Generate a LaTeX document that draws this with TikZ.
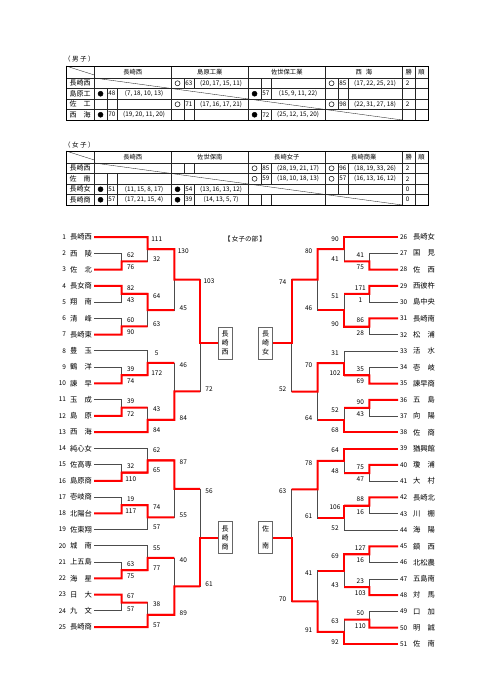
\documentclass[tikz,border=0pt]{standalone}
\usepackage{fontspec}
\setmainfont{Noto Sans CJK JP}
\usetikzlibrary{calc,backgrounds}

% one bout: column, next column, top, bottom, out, winner, top score, bottom score
\newcommand\bout[8]{%
  \coordinate (#5) at ($(#3 -| #1)!.5!(#4 -| #1)$);
  \begin{scope}[on background layer]
    \draw[lose] (#3) -- (#3 -| #1) -- (#4 -| #1) -- (#4);
  \end{scope}
  \draw[win] (#6) -- (#6 -| #1) -- (#5) -- (#5 -| #2);
  \node[score, yshift=-2pt] (#5t) at (#3 -| #1) {#7};
  \node[score, yshift=2pt] (#5b) at (#4 -| #1) {#8};
}
% last bout into the box: column, top, bottom, winner, box, anchor, top score, bottom score
\newcommand\final[8]{%
  \begin{scope}[on background layer]
    \draw[lose] (#2) -- (#2 -| #1) -- (#3 -| #1) -- (#3);
  \end{scope}
  \draw[win] (#4 -| #1) -- (#1 |- #5.#6) -- (#5.#6);
  \node[score, yshift=-2pt] (#5t) at (#2 -| #1) {#7};
  \node[score, yshift=2pt] (#5b) at (#3 -| #1) {#8};
}
% league table grid, top edge at #1
\newcommand\grid[1]{%
  \draw[rule] (66,#1) -- (94.3,{#1+9});
  \foreach \x in {94.3,171.3,248.3,325.3,402.3,415}
    \draw[rule] (\x,#1) -- (\x,{#1+54});
  \foreach \d in {12,22.5,33,43.5}
    \draw[rule] (66,{#1+\d}) -- (428,{#1+\d});
  \foreach \r in {0,...,3}{
    \foreach \k in {0,...,3}{
      \ifnum\r=\k
        \draw[rule] ({94.3+77*\k},{#1+12+10.5*\r}) -- ++(77,10.5);
      \else
        \draw[rule] ({106.8+77*\k},{#1+12+10.5*\r}) -- ++(0,10.5);
        \draw[rule] ({116.8+77*\k},{#1+12+10.5*\r}) -- ++(0,10.5);
      \fi
    }
  }
  \draw[frame] (66,#1) rectangle (428,{#1+54});
}

\begin{document}
\begin{tikzpicture}[
  x=1pt, y=-1pt,
  lose/.style={draw=black!70, line width=0.6pt},
  win/.style={draw=red, line width=2pt},
  seed/.style={font={\fontsize{6.5pt}{7pt}\selectfont}, inner sep=0pt, outer xsep=2pt},
  team/.style={font={\fontsize{7.3pt}{8pt}\selectfont}, inner sep=0pt, outer xsep=2pt},
  scoreL/.style={font={\fontsize{6.5pt}{7pt}\selectfont}, inner sep=0pt, xshift=9pt},
  scoreR/.style={font={\fontsize{6.5pt}{7pt}\selectfont}, inner sep=0pt, xshift=-9pt},
  score/.style={scoreL},
  champ/.style={draw=black!60, line width=0.4pt, fill=white, align=center, inner sep=1.5pt,
    minimum width=14pt, minimum height=32pt, font={\fontsize{7pt}{9pt}\selectfont}},
  frame/.style={draw=black, line width=0.8pt},
  rule/.style={draw=black!85, line width=0.35pt},
  thead/.style={font={\fontsize{6.3pt}{7pt}\selectfont}, inner sep=0pt},
  tlab/.style={font={\fontsize{7pt}{8pt}\selectfont}, inner sep=0pt},
  tcell/.style={font={\fontsize{6.3pt}{7pt}\selectfont}, inner sep=0pt},
  won/.style={circle, draw=black, line width=0.5pt, minimum size=5pt, inner sep=0pt},
  lost/.style={won, fill=black},
  caption/.style={font={\fontsize{6.5pt}{7pt}\selectfont}, inner sep=0pt}
]
\useasboundingbox (0,0) rectangle (481,680);

% ---- boys league
\node[caption, anchor=west] (mcap) at (64,59) {（ 男 子 ）};
\grid{66}
\foreach \k/\n in {0/長崎西,1/島原工業,2/佐世保工業,3/西\hspace{4pt}海}
  \node[thead] (mh\k) at ({132.8+77*\k},72) {\n};
\node[thead] (mwin) at (408.65,72) {勝};
\node[thead] (mrank) at (421.5,72) {順};
\foreach \r/\n in {0/長崎西,1/島原工,2/佐\hfill 工,3/西\hfill 海}
  \node[tlab] (mr\r) at (80.15,{83.25+10.5*\r}) {\makebox[21pt][s]{\n}};
\foreach \r/\k/\m/\p/\s in {0/1/won/63/{(20, 17, 15, 11)},0/3/won/85/{(17, 22, 25, 21)},
    1/0/lost/48/{(7, 18, 10, 13)},1/2/lost/57/{(15, 9, 11, 22)},
    2/1/won/71/{(17, 16, 17, 21)},2/3/won/98/{(22, 31, 27, 18)},
    3/0/lost/70/{(19, 20, 11, 20)},3/2/lost/72/{(25, 12, 15, 20)}}{
  \node[\m] (mc\r\k) at ({100.55+77*\k},{83.25+10.5*\r}) {};
  \node[tcell] (mp\r\k) at ({111.8+77*\k},{83.25+10.5*\r}) {\p};
  \node[tcell] (ms\r\k) at ({144.05+77*\k},{83.25+10.5*\r}) {\s};
}
\foreach \r/\w in {0/2,2/2}
  \node[tcell] (mw\r) at (407.5,{83.25+10.5*\r}) {\w};

% ---- girls league
\node[caption, anchor=west] (fcap) at (64,145) {（ 女 子 ）};
\grid{151}
\foreach \k/\n in {0/長崎西,1/佐世保南,2/長崎女子,3/長崎商業}
  \node[thead] (fh\k) at ({132.8+77*\k},157) {\n};
\node[thead] (fwin) at (408.65,157) {勝};
\node[thead] (frank) at (421.5,157) {順};
\foreach \r/\n in {0/長崎西,1/佐\hfill 南,2/長崎女,3/長崎商}
  \node[tlab] (fr\r) at (80.15,{168.25+10.5*\r}) {\makebox[21pt][s]{\n}};
\foreach \r/\k/\m/\p/\s in {0/2/won/85/{(28, 19, 21, 17)},0/3/won/96/{(18, 19, 33, 26)},
    1/2/won/59/{(18, 10, 18, 13)},1/3/won/57/{(16, 13, 16, 12)},
    2/0/lost/51/{(11, 15, 8, 17)},2/1/lost/54/{(13, 16, 13, 12)},
    3/0/lost/57/{(17, 21, 15, 4)},3/1/lost/39/{(14, 13, 5, 7)}}{
  \node[\m] (fc\r\k) at ({100.55+77*\k},{168.25+10.5*\r}) {};
  \node[tcell] (fp\r\k) at ({111.8+77*\k},{168.25+10.5*\r}) {\p};
  \node[tcell] (fs\r\k) at ({144.05+77*\k},{168.25+10.5*\r}) {\s};
}
\foreach \r/\w in {0/2,1/2,2/0,3/0}
  \node[tcell] (fw\r) at (407.5,{168.25+10.5*\r}) {\w};

% ---- tournament
\node[caption] (ttl) at (245,239) {【 女子の部 】};

\coordinate (L1) at (121.7,0);
\coordinate (L2) at (147.7,0);
\coordinate (L3) at (174.3,0);
\coordinate (L4) at (200,0);
\coordinate (R1) at (369.3,0);
\coordinate (R2) at (344,0);
\coordinate (R3) at (317.7,0);
\coordinate (R4) at (291.7,0);

\foreach \i/\n in {1/長崎西,2/西\hfill 陵,3/佐\hfill 北,4/長女商,5/翔\hfill 南,6/清\hfill 峰,
    7/長崎東,8/豊\hfill 玉,9/鶴\hfill 洋,10/諫\hfill 早,11/玉\hfill 成,12/島\hfill 原,
    13/西\hfill 海,14/純心女,15/佐高専,16/島原商,17/壱岐商,18/北陽台,19/佐東翔,
    20/城\hfill 南,21/上五島,22/海\hfill 星,23/日\hfill 大,24/九\hfill 文,25/長崎商}{
  \node[seed, anchor=east] (s\i) at (68,{237+(\i-1)*16.25}) {\i};
  \node[team, anchor=west] (t\i) at (68,{237+(\i-1)*16.25}) {\makebox[22pt][s]{\n}};
}
\foreach \i/\n in {26/長崎女,27/国\hfill 見,28/佐\hfill 西,29/西彼杵,30/島中央,31/長崎南,
    32/松\hfill 浦,33/活\hfill 水,34/壱\hfill 岐,35/諫早商,36/五\hfill 島,37/向\hfill 陽,
    38/佐\hfill 商,39/猶興館,40/瓊\hfill 浦,41/大\hfill 村,42/長崎北,43/川\hfill 棚,
    44/海\hfill 陽,45/鎮\hfill 西,46/北松農,47/五島南,48/対\hfill 馬,49/口\hfill 加,
    50/明\hfill 誠,51/佐\hfill 南}{
  \node[seed, anchor=west] (s\i) at (398,{237+(\i-26)*16.28}) {\i};
  \node[team, anchor=west] (t\i) at (411,{237+(\i-26)*16.28}) {\makebox[22pt][s]{\n}};
}

\node[champ] (wL1) at (225,343) {長\\崎\\西};
\node[champ] (wL2) at (225,537.5) {長\\崎\\商};
\node[champ] (wR1) at (265.5,343) {長\\崎\\女};
\node[champ] (wR2) at (265.5,537.5) {佐\\[8pt]南};

% left, upper
\bout{L1}{L2}{t2.east}{t3.east}{a2}{t3.east}{62}{76}
\bout{L2}{L3}{t1.east}{a2}{b1}{t1.east}{111}{32}
\bout{L1}{L2}{t4.east}{t5.east}{a4}{t4.east}{82}{43}
\bout{L1}{L2}{t6.east}{t7.east}{a6}{t7.east}{60}{90}
\bout{L2}{L3}{a4}{a6}{b4}{a4}{64}{63}
\bout{L3}{L4}{b1}{b4}{c1}{b1}{130}{45}
\bout{L1}{L2}{t9.east}{t10.east}{a9}{t10.east}{39}{74}
\bout{L2}{L3}{t8.east}{a9}{b8}{a9}{5}{172}
\bout{L1}{L2}{t11.east}{t12.east}{a11}{t12.east}{39}{72}
\bout{L2}{L3}{a11}{t13.east}{b11}{t13.east}{43}{84}
\bout{L3}{L4}{b8}{b11}{c8}{b11}{46}{84}
\final{L4}{c1}{c8}{c1}{wL1}{west}{103}{72}

% left, lower
\bout{L1}{L2}{t15.east}{t16.east}{a15}{t16.east}{32}{110}
\bout{L2}{L3}{t14.east}{a15}{b14}{a15}{62}{65}
\bout{L1}{L2}{t17.east}{t18.east}{a17}{t18.east}{19}{117}
\bout{L2}{L3}{a17}{t19.east}{b17}{a17}{74}{57}
\bout{L3}{L4}{b14}{b17}{c14}{b14}{87}{55}
\bout{L1}{L2}{t21.east}{t22.east}{a21}{t22.east}{63}{75}
\bout{L2}{L3}{t20.east}{a21}{b20}{a21}{55}{77}
\bout{L1}{L2}{t23.east}{t24.east}{a23}{t23.east}{67}{57}
\bout{L2}{L3}{a23}{t25.east}{b23}{t25.east}{38}{57}
\bout{L3}{L4}{b20}{b23}{c20}{b23}{40}{89}
\final{L4}{c14}{c20}{c20}{wL2}{west}{56}{61}

\tikzset{score/.style={scoreR}}
% right, upper
\bout{R1}{R2}{s27.west}{s28.west}{a27}{s28.west}{41}{75}
\bout{R2}{R3}{s26.west}{a27}{b26}{s26.west}{90}{41}
\bout{R1}{R2}{s29.west}{s30.west}{a29}{s29.west}{171}{1}
\bout{R1}{R2}{s31.west}{s32.west}{a31}{s31.west}{86}{28}
\bout{R2}{R3}{a29}{a31}{b29}{a31}{51}{90}
\bout{R3}{R4}{b26}{b29}{c26}{b26}{80}{46}
\bout{R1}{R2}{s34.west}{s35.west}{a34}{s35.west}{35}{69}
\bout{R2}{R3}{s33.west}{a34}{b33}{a34}{31}{102}
\bout{R1}{R2}{s36.west}{s37.west}{a36}{s36.west}{90}{43}
\bout{R2}{R3}{a36}{s38.west}{b36}{s38.west}{52}{68}
\bout{R3}{R4}{b33}{b36}{c33}{b33}{70}{64}
\final{R4}{c26}{c33}{c26}{wR1}{east}{74}{52}

% right, lower
\bout{R1}{R2}{s40.west}{s41.west}{a40}{s40.west}{75}{47}
\bout{R2}{R3}{s39.west}{a40}{b39}{s39.west}{64}{48}
\bout{R1}{R2}{s42.west}{s43.west}{a42}{s42.west}{88}{16}
\bout{R2}{R3}{a42}{s44.west}{b42}{a42}{106}{52}
\bout{R3}{R4}{b39}{b42}{c39}{b39}{78}{61}
\bout{R1}{R2}{s45.west}{s46.west}{a45}{s45.west}{127}{16}
\bout{R1}{R2}{s47.west}{s48.west}{a47}{s48.west}{23}{103}
\bout{R2}{R3}{a45}{a47}{b45}{a45}{69}{43}
\bout{R1}{R2}{s49.west}{s50.west}{a49}{s50.west}{50}{110}
\bout{R2}{R3}{a49}{s51.west}{b49}{s51.west}{63}{92}
\bout{R3}{R4}{b45}{b49}{c45}{b49}{41}{91}
\final{R4}{c39}{c45}{c45}{wR2}{east}{63}{70}

\end{tikzpicture}
\end{document}
